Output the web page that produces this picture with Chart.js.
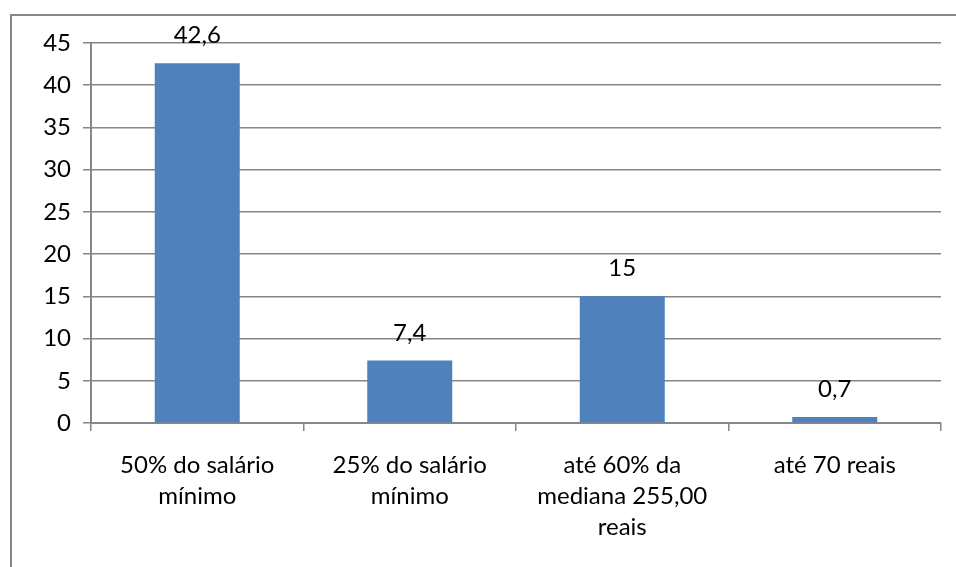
<!DOCTYPE html>
<html><head><meta charset="utf-8">
<script src="https://cdn.jsdelivr.net/npm/chart.js@4/dist/chart.umd.min.js"></script>
<style>html,body{margin:0;padding:0;background:#fff;}#wrap{width:956px;height:567px;position:relative;}</style>
</head><body><div id="wrap"><canvas id="c" width="956" height="567"></canvas></div>
<script>
const categories = [["50% do salário","mínimo"],["25% do salário","mínimo"],["até 60% da","mediana 255,00","reais"],["até 70 reais"]];
const values = [42.6, 7.4, 15, 0.7];
const yTicks = [0,5,10,15,20,25,30,35,40,45];

const FONT = "Lato, 'Open Sans', sans-serif";
const GRID = "#868686";

const borderPlugin = {
  id:'outerBorder',
  afterDraw(chart){
    const c = chart.ctx;
    c.save();
    c.strokeStyle = GRID; c.lineWidth = 2;
    c.beginPath();
    c.moveTo(11, 567); c.lineTo(11, 15); c.lineTo(956, 15);
    c.stroke();
    c.restore();
  }
};
const labelPlugin = {
  id:'valueLabels',
  afterDatasetsDraw(chart){
    const c = chart.ctx;
    const meta = chart.getDatasetMeta(0);
    c.save();
    c.font = "24px " + FONT;
    c.fillStyle = "#000";
    c.textAlign = "center";
    c.textBaseline = "alphabetic";
    meta.data.forEach((bar,i)=>{
      c.fillText(String(values[i]).replace('.',','), bar.x, bar.y - 20);
    });
    c.restore();
  }
};

new Chart(document.getElementById('c'), {
  type:'bar',
  data:{ labels: categories, datasets:[{ data: values, backgroundColor:'#4F81BD', categoryPercentage:0.8, barPercentage:0.5 }]},
  options:{
    responsive:false, animation:false,
    layout:{ padding:{ left:10, top:43, right:15, bottom:0 } },
    plugins:{ legend:{display:false}, tooltip:{enabled:false} },
    scales:{
      x:{
        offset:true,
        grid:{ offset:true, drawOnChartArea:false, drawTicks:true, tickLength:8, color:GRID, lineWidth:1.5 },
        border:{ color:GRID, width:2 },
        ticks:{ color:'#000', font:{ family:FONT, size:24, lineHeight:1.28 }, padding:19, maxRotation:0, autoSkip:false },
        afterFit(s){ s.height = 144; }
      },
      y:{
        min:0, max:45,
        afterBuildTicks(s){ s.ticks = yTicks.map(v=>({value:v})); },
        grid:{ color:GRID, lineWidth:1.5, tickLength:8 },
        border:{ color:GRID, width:2 },
        ticks:{ color:'#000', font:{ family:FONT, size:24 }, padding:12 },
        afterFit(s){ s.width = 81; }
      }
    }
  },
  plugins:[borderPlugin, labelPlugin]
});
</script></body></html>
